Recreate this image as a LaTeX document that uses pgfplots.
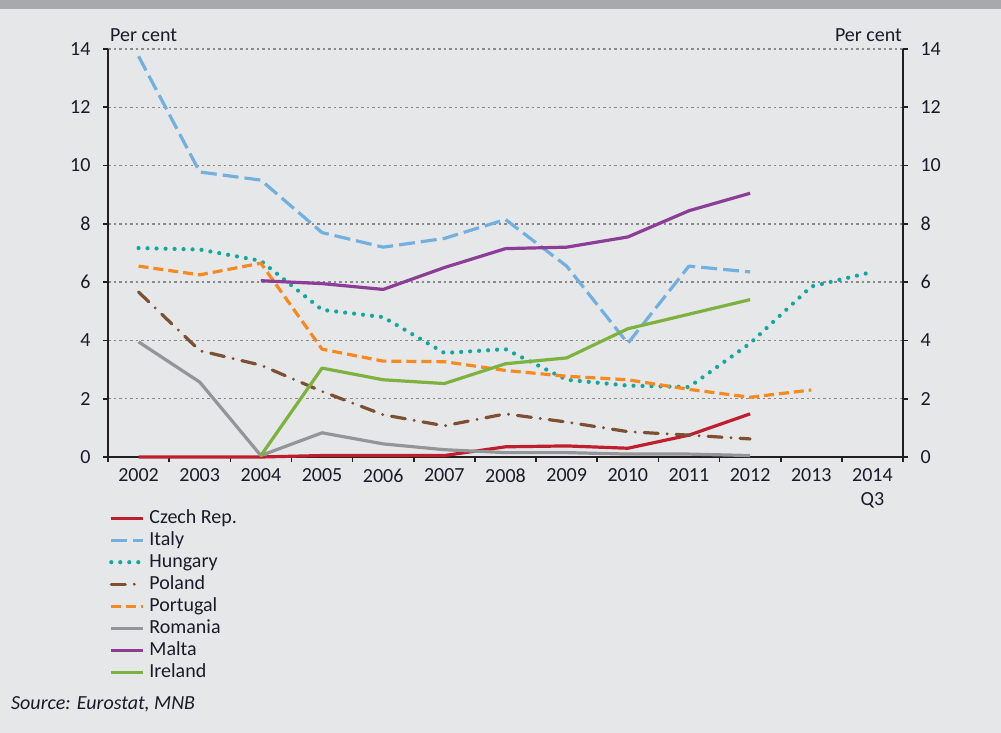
\documentclass[border=0pt]{standalone}
\usepackage{pgfplots}
\pgfplotsset{compat=1.18}
\usepackage{fontspec}
\setmainfont{Carlito}
\definecolor{bg}{HTML}{E6E7E8}
\definecolor{topbar}{HTML}{A7A9AC}
\definecolor{axc}{HTML}{231F20}
\definecolor{gridc}{HTML}{8A8A8A}
\definecolor{txt}{HTML}{1A1A2A}
\definecolor{czc}{HTML}{BE1E2D}
\definecolor{itc}{HTML}{72B0E0}
\definecolor{huc}{HTML}{12A89D}
\definecolor{plc}{HTML}{7D4F33}
\definecolor{ptc}{HTML}{F7891F}
\definecolor{roc}{HTML}{939598}
\definecolor{mtc}{HTML}{8C3E97}
\definecolor{iec}{HTML}{7DB23E}
\newcommand{\fs}{\fontsize{20}{24}\selectfont}
\begin{document}
\begin{tikzpicture}[x=1pt,y=1pt]
\fill[bg] (0,0) rectangle (1001,733);
\fill[topbar] (0,724) rectangle (1001,733);
\useasboundingbox (0,0) rectangle (1001,733);
\pgfplotsset{
  base/.style={
    at={(108pt,276pt)}, anchor=south west,
    scale only axis, width=795pt, height=408pt,
    xmin=-0.5, xmax=12.5, ymin=0, ymax=14,
    ytick={0,2,...,14},
    tick align=outside,
    major tick length=5pt,
    axis line style={axc, line width=1.6pt},
    ticklabel style={font=\fs, text=txt},
    /pgf/number format/assume math mode=true,
  }
}
\begin{axis}[base,
  axis x line*=bottom, axis y line*=left,
  xtick={0,...,12},
  xticklabels={2002,2003,2004,2005,2006,2007,2008,2009,2010,2011,2012,2013,{2014\\Q3}},
  xticklabel style={align=center, yshift=-3pt},
  x tick style={draw=none},
  y tick style={axc, line width=1.6pt},
  minor xtick={-0.5,0.5,...,12.5},
  minor tick length=5pt,
  minor x tick style={draw=axc, line width=1.6pt},
  yticklabel style={xshift=-9pt},
  ymajorgrids=true,
  y grid style={draw=gridc, line width=1.3pt, dash pattern=on 2.5pt off 3pt},
  legend style={at={(axis description cs:0,0)}, anchor=north west,
    xshift=-2pt, yshift=-50pt, draw=none, fill=none, font=\fs, text=txt,
    row sep=4pt,
    nodes={inner sep=0pt, text height=14pt, text depth=4pt}},
  legend cell align=left,
  legend image code/.code={\draw[#1] (0pt,0pt) -- (32pt,0pt);},
  every axis plot/.append style={line width=3.2pt, line join=round},
  clip=false,
]
\addplot[czc] coordinates {(0,0) (1,0) (2,0) (3,0.05) (4,0.05) (5,0.05) (6,0.35) (7,0.38) (8,0.3) (9,0.75) (10,1.48)};
\addlegendentry{\hspace{4pt}Czech Rep.}
\addplot[itc, dash pattern=on 16pt off 6pt] coordinates {(0,13.75) (1,9.78) (2,9.5) (3,7.7) (4,7.2) (5,7.5) (6,8.15) (7,6.55) (8,3.9) (9,6.55) (10,6.35)};
\addlegendentry{\hspace{4pt}Italy}
\addplot[huc, line cap=round, dash pattern=on 0pt off 9pt, line width=4.2pt] coordinates {(0,7.17) (1,7.12) (2,6.73) (3,5.05) (4,4.8) (5,3.57) (6,3.7) (7,2.65) (8,2.45) (9,2.4) (10,3.9) (11,5.85) (12,6.35)};
\addlegendentry{\hspace{4pt}Hungary}
\addplot[plc, line cap=round, dash pattern=on 14pt off 9pt on 0pt off 9pt] coordinates {(0,5.66) (1,3.65) (2,3.15) (3,2.25) (4,1.45) (5,1.07) (6,1.48) (7,1.2) (8,0.87) (9,0.75) (10,0.62)};
\addlegendentry{\hspace{4pt}Poland}
\addplot[ptc, dash pattern=on 10pt off 5pt] coordinates {(0,6.55) (1,6.25) (2,6.65) (3,3.7) (4,3.29) (5,3.27) (6,2.97) (7,2.77) (8,2.65) (9,2.32) (10,2.05) (11,2.3)};
\addlegendentry{\hspace{4pt}Portugal}
\addplot[roc] coordinates {(0,3.95) (1,2.57) (2,0.05) (3,0.83) (4,0.45) (5,0.25) (6,0.15) (7,0.15) (8,0.1) (9,0.1) (10,0.05)};
\addlegendentry{\hspace{4pt}Romania}
\addplot[mtc] coordinates {(2,6.05) (3,5.95) (4,5.75) (5,6.5) (6,7.15) (7,7.2) (8,7.55) (9,8.45) (10,9.05)};
\addlegendentry{\hspace{4pt}Malta}
\addplot[iec] coordinates {(2,0.05) (3,3.05) (4,2.65) (5,2.52) (6,3.2) (7,3.4) (8,4.4) (9,4.9) (10,5.4)};
\addlegendentry{\hspace{4pt}Ireland}
\node[anchor=base west, font=\fs, text=txt, inner sep=0pt] at (rel axis cs:0,1) [yshift=7pt, xshift=2pt] {Per cent};
\node[anchor=base east, font=\fs, text=txt, inner sep=0pt] at (rel axis cs:1,1) [yshift=7pt, xshift=-1pt] {Per cent};
\end{axis}
\begin{axis}[base,
  axis x line=none, axis y line*=right,
  xtick=\empty,
  y tick style={axc, line width=1.6pt},
  yticklabel style={xshift=9pt},
]
\end{axis}
\node[anchor=west, font=\fs\itshape, text=txt, inner sep=0pt] at (11,29) {Source: Eurostat, MNB};
\end{tikzpicture}
\end{document}
